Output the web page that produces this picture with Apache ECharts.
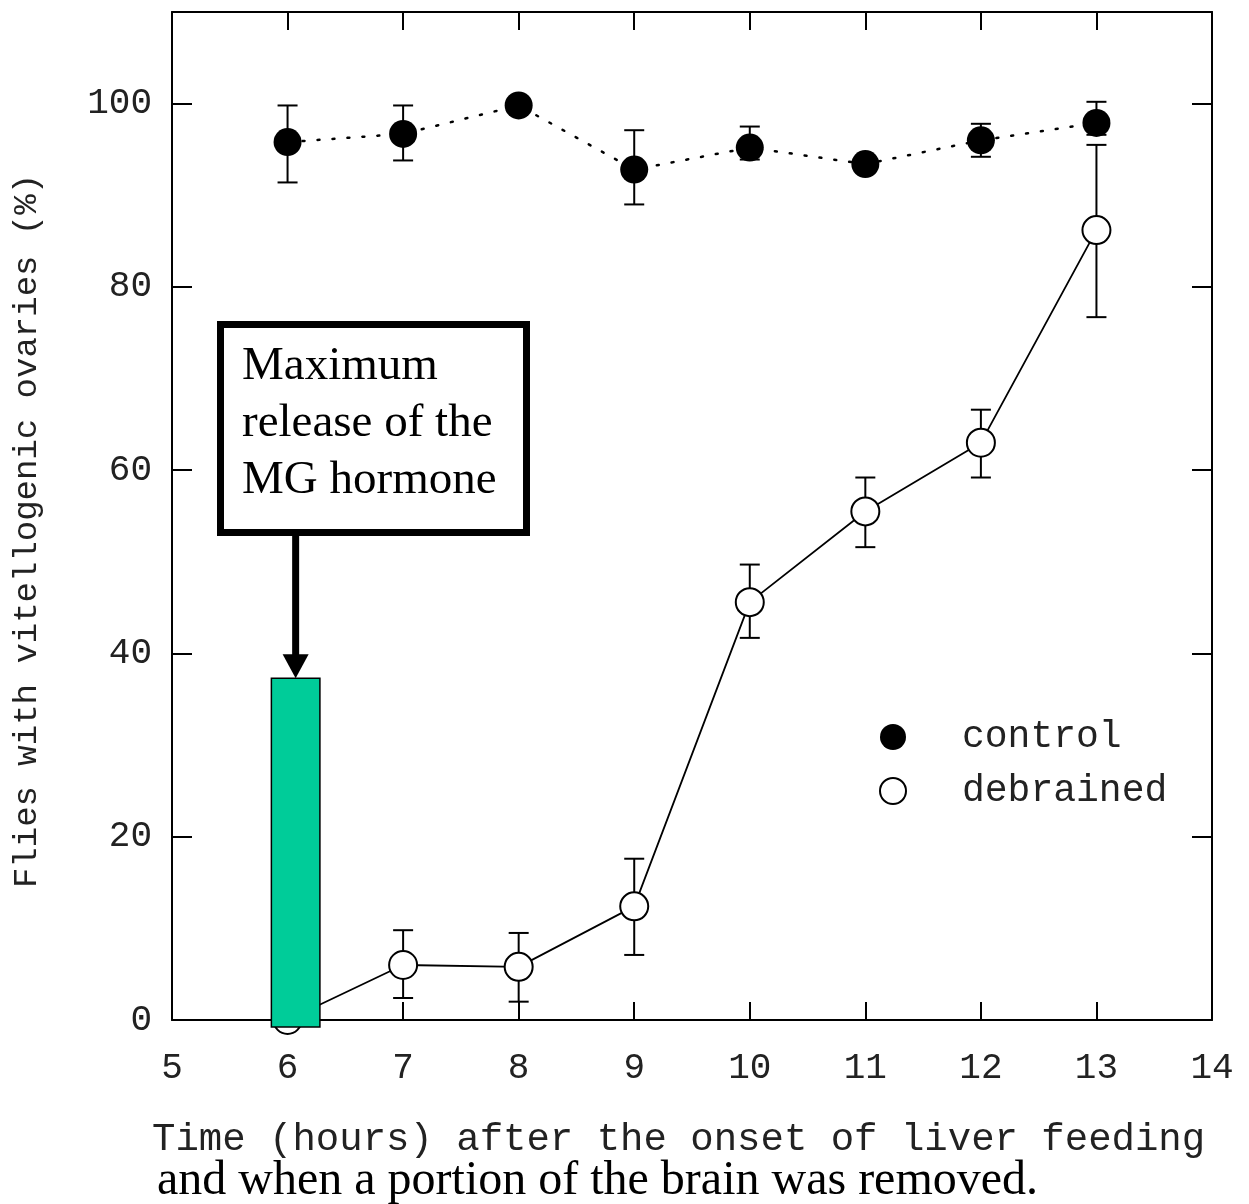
<!DOCTYPE html>
<html>
<head>
<meta charset="utf-8">
<title>Vitellogenic ovaries after liver feeding</title>
<script src="https://cdn.jsdelivr.net/npm/echarts@6/dist/echarts.min.js"></script>
<style>
  html, body { margin: 0; padding: 0; background: #fff; }
  #chart { width: 1249px; height: 1204px; }
</style>
</head>
<body>
<div id="chart"></div>
<script>
// Hours after the onset of liver feeding
const hours = [6, 7, 8, 9, 10, 11, 12, 13];

// Control flies: % with vitellogenic ovaries and error-bar extents
const controlPct  = [95.8, 96.7, 99.8, 92.8, 95.2, 93.4, 96.0, 97.9];
const controlHigh = [99.8, 99.8, null, 97.1, 97.5, null, 97.8, 100.2];
const controlLow  = [91.4, 93.8, null, 89.0, 93.9, null, 94.2, 96.6];

// Debrained flies
const debrainedPct  = [0, 6.0, 5.8, 12.4, 45.6, 55.5, 63.0, 86.2];
const debrainedHigh = [null, 9.8, 9.5, 17.6, 49.7, 59.2, 66.6, 95.5];
const debrainedLow  = [null, 2.4, 2.0, 7.1, 41.7, 51.6, 59.2, 76.7];

// Window of maximum MG hormone release (hours) and its bar height
const hormoneWindow = [5.86, 6.28];
const hormoneHeight = 37.3;

// Axis ticks
const xTicks = [5, 6, 7, 8, 9, 10, 11, 12, 13, 14];
const yTicks = [0, 20, 40, 60, 80, 100];

const annotationLines = ['Maximum', 'release of the', 'MG hormone'];
const xTitle1 = 'Time (hours) after the onset of liver feeding';
const xTitle2 = 'and when a portion of the brain was removed.';
const yTitle = 'Flies with vitellogenic ovaries (%)';

const MONO = '"Liberation Mono", "DejaVu Sans Mono", monospace';
const SERIF = '"Liberation Serif", "DejaVu Serif", serif';

const pairs = (xs, ys) => xs.map((x, i) => [x, ys[i]]);
const errRows = (lo, hi) => hours
  .map((x, i) => [x, lo[i], hi[i]])
  .filter(r => r[1] != null && r[2] != null);

function renderErrorBar(params, api) {
  const x = api.value(0);
  const lo = api.coord([x, api.value(1)]);
  const hi = api.coord([x, api.value(2)]);
  const half = 10;
  const style = { stroke: '#000', lineWidth: 2 };
  return {
    type: 'group',
    children: [
      { type: 'line', shape: { x1: lo[0], y1: lo[1], x2: hi[0], y2: hi[1] }, style },
      { type: 'line', shape: { x1: lo[0] - half, y1: lo[1], x2: lo[0] + half, y2: lo[1] }, style },
      { type: 'line', shape: { x1: hi[0] - half, y1: hi[1], x2: hi[0] + half, y2: hi[1] }, style }
    ]
  };
}

function renderHormoneBar(params, api) {
  const tl = api.coord([api.value(0), api.value(2)]);
  const br = api.coord([api.value(1), 0]);
  return {
    type: 'rect',
    shape: { x: tl[0], y: tl[1], width: br[0] - tl[0], height: br[1] - tl[1] + 7 },
    style: { fill: '#00CC99', stroke: '#000', lineWidth: 1.5 }
  };
}

const chart = echarts.init(document.getElementById('chart'), null, { renderer: 'canvas' });

const axisLineStyle = { color: '#000', width: 2 };
const xBase = {
  type: 'value', min: xTicks[0], max: xTicks[xTicks.length - 1], interval: 1,
  splitLine: { show: false },
  axisLine: { show: true, onZero: false, lineStyle: axisLineStyle },
  axisTick: { show: true, inside: true, length: 18, lineStyle: axisLineStyle }
};
const yBase = {
  type: 'value', min: 0, max: 110, interval: 20,
  splitLine: { show: false },
  axisLine: { show: true, onZero: false, lineStyle: axisLineStyle },
  axisTick: { show: true, inside: true, length: 20, lineStyle: axisLineStyle }
};

chart.setOption({
  animation: false,
  backgroundColor: '#fff',
  grid: { left: 172, right: 37, top: 12, bottom: 184 },
  xAxis: [
    Object.assign({}, xBase, {
      position: 'bottom',
      axisLabel: {
        margin: 30, color: '#222', fontFamily: MONO, fontSize: 36,
        formatter: v => xTicks.includes(v) ? String(v) : ''
      }
    }),
    Object.assign({}, xBase, { position: 'top', axisLabel: { show: false } })
  ],
  yAxis: [
    Object.assign({}, yBase, {
      position: 'left',
      name: yTitle,
      nameLocation: 'middle',
      nameRotate: 90,
      nameGap: 128,
      nameTextStyle: { color: '#222', fontFamily: MONO, fontSize: 34, padding: [0, 30, 0, 0] },
      axisLabel: {
        margin: 20, color: '#222', fontFamily: MONO, fontSize: 36,
        showMaxLabel: false,
        formatter: v => yTicks.includes(v) ? String(v) : ''
      }
    }),
    Object.assign({}, yBase, { position: 'right', axisLabel: { show: false } })
  ],
  legend: {
    orient: 'vertical',
    left: 874, top: 713,
    itemWidth: 28, itemHeight: 26, itemGap: 16,
    textStyle: { color: '#222', fontFamily: MONO, fontSize: 38, padding: [0, 0, 0, 50] },
    data: [
      { name: 'control', icon: 'circle' },
      { name: 'debrained', icon: 'circle' }
    ]
  },
  series: [
    {
      name: 'control',
      type: 'line',
      data: pairs(hours, controlPct),
      symbol: 'circle', symbolSize: 28,
      itemStyle: { color: '#000' },
      lineStyle: { color: '#000', width: 2.5, type: [2, 13], cap: 'round' },
      z: 4
    },
    {
      name: 'debrained',
      type: 'line',
      data: pairs(hours, debrainedPct),
      symbol: 'circle', symbolSize: 28,
      itemStyle: { color: '#fff', borderColor: '#000', borderWidth: 2 },
      lineStyle: { color: '#000', width: 1.8 },
      z: 4
    },
    {
      name: 'control error',
      type: 'custom',
      renderItem: renderErrorBar,
      data: errRows(controlLow, controlHigh),
      z: 3
    },
    {
      name: 'debrained error',
      type: 'custom',
      renderItem: renderErrorBar,
      data: errRows(debrainedLow, debrainedHigh),
      z: 3
    },
    {
      name: 'MG hormone',
      type: 'custom',
      renderItem: renderHormoneBar,
      clip: false,
      data: [[hormoneWindow[0], hormoneWindow[1], hormoneHeight]],
      z: 6
    }
  ]
});

// Callout box with an arrow pointing at the top of the hormone bar
const tip = chart.convertToPixel({ xAxisIndex: 0, yAxisIndex: 0 },
  [(hormoneWindow[0] + hormoneWindow[1]) / 2, hormoneHeight]);
const boxTop = 324.5, boxH = 208;
const shaftTop = boxTop + boxH + 3;
const headH = 24;

chart.setOption({
  graphic: [
    {
      type: 'rect', z: 20,
      shape: { x: 220.5, y: boxTop, width: 306, height: boxH },
      style: { fill: '#fff', stroke: '#000', lineWidth: 7 }
    },
    ...annotationLines.map((t, i) => ({
      type: 'text', z: 21,
      x: 242, y: 367 + i * 57,
      style: { text: t, fill: '#000', font: '47px ' + SERIF, textVerticalAlign: 'middle' }
    })),
    {
      type: 'line', z: 20,
      shape: { x1: tip[0], y1: shaftTop, x2: tip[0], y2: tip[1] - headH + 2 },
      style: { stroke: '#000', lineWidth: 7 }
    },
    {
      type: 'polygon', z: 20,
      shape: { points: [[tip[0] - 13, tip[1] - headH], [tip[0] + 13, tip[1] - headH], [tip[0], tip[1]]] },
      style: { fill: '#000' }
    },
    {
      type: 'text', z: 10,
      x: 152, y: 1140,
      style: { text: xTitle1, fill: '#222', font: '39px ' + MONO, textVerticalAlign: 'middle' }
    },
    {
      type: 'text', z: 10,
      x: 157, y: 1181,
      style: { text: xTitle2, fill: '#000', font: '48px ' + SERIF, textVerticalAlign: 'middle' }
    }
  ]
});
</script>
</body>
</html>
